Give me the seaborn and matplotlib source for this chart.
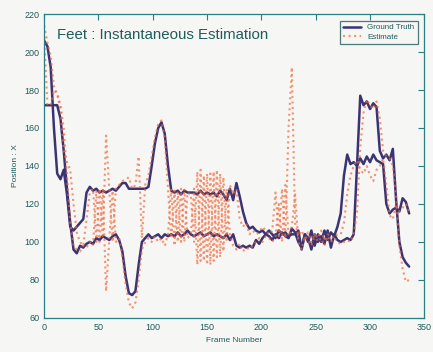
import matplotlib
matplotlib.use("Agg")
import matplotlib.pyplot as plt
import seaborn as sns
import numpy as np
import pandas as pd

# frame numbers (every 3rd frame)
frames = np.arange(0, 337, 3)

# ground truth, foot 1 and foot 2
truth_a = [206, 203, 192, 160, 136, 133, 138, 125, 108, 106,
           108, 110, 112, 126, 129, 127, 128, 126, 127, 126,
           127, 128, 127, 129, 131, 131, 128, 128, 128, 128,
           128, 128, 129, 140, 152, 160, 163, 157, 140, 127,
           126, 127, 125, 127, 126, 126, 126, 125, 127, 125,
           126, 125, 126, 124, 127, 125, 122, 128, 122, 131,
           124, 116, 110, 107, 108, 106, 105, 106, 104, 106,
           104, 102, 106, 104, 105, 103, 104, 104, 106, 96,
           104, 100, 106, 98, 104, 100, 106, 101, 105, 103,
           108, 115, 135, 146, 141, 142, 140, 144, 141, 145,
           142, 146, 143, 142, 141, 120, 115, 117, 118, 116,
           123, 121, 115]
truth_b = [172, 172, 172, 172, 172, 165, 148, 128, 110, 96,
           94, 98, 97, 99, 100, 99, 102, 101, 103, 102,
           101, 103, 104, 101, 95, 82, 73, 72, 74, 88,
           100, 102, 104, 102, 103, 104, 102, 104, 103, 104,
           103, 105, 103, 104, 106, 104, 103, 104, 105, 103,
           104, 105, 103, 104, 103, 102, 104, 101, 104, 98,
           97, 98, 97, 98, 97, 101, 99, 102, 104, 103,
           101, 104, 102, 105, 103, 102, 107, 105, 100, 97,
           104, 102, 96, 104, 100, 103, 99, 106, 97, 104,
           101, 100, 101, 102, 101, 104, 140, 177, 172, 174,
           170, 173, 171, 148, 144, 146, 143, 149, 122, 100,
           92, 89, 87]

# instantaneous estimates
est_a = [214, 205, 198, 182, 178, 170, 148, 142, 138, 120,
         105, 100, 98, 112, 126, 128, 100, 128, 102, 156,
         127, 100, 128, 130, 132, 133, 134, 128, 130, 145,
         102, 130, 135, 145, 155, 162, 164, 155, 128, 102,
         127, 100, 128, 100, 126, 125, 100, 137, 90, 135,
         88, 136, 90, 138, 92, 134, 100, 130, 125, 128,
         112, 108, 110, 104, 106, 104, 105, 108, 106, 104,
         106, 126, 103, 128, 102, 160, 192, 110, 103, 106,
         102, 105, 100, 104, 102, 106, 101, 104, 103, 102,
         104, 104, 110, 125, 135, 140, 143, 138, 136, 140,
         135, 132, 138, 140, 144, 130, 114, 112, 120, 116,
         118, 120, 116]
est_b = [208, 172, 172, 180, 178, 172, 160, 135, 110, 98,
         96, 95, 98, 97, 100, 98, 127, 100, 128, 74,
         102, 127, 100, 102, 92, 78, 68, 65, 68, 80,
         96, 100, 102, 100, 103, 100, 102, 98, 104, 128,
         98, 126, 100, 128, 102, 104, 128, 88, 138, 90,
         136, 88, 137, 92, 136, 95, 128, 104, 98, 96,
         99, 95, 97, 96, 98, 100, 102, 100, 103, 102,
         100, 103, 120, 100, 130, 103, 108, 125, 100, 96,
         103, 101, 98, 104, 100, 102, 98, 103, 100, 102,
         100, 99, 100, 101, 100, 104, 115, 150, 168, 175,
         172, 170, 174, 165, 148, 145, 144, 140, 124, 98,
         86, 79, 80]

bg = '#f6f6f4'
axis_col = '#2a8080'
text_col = '#1f5c5c'
truth_col = '#3b3474'
est_col = '#f2683a'

sns.set_style("white")
plt.rcParams['font.family'] = ['Liberation Sans', 'DejaVu Sans']

fig = plt.figure(figsize=(4.33, 3.52), dpi=100, facecolor=bg)
ax = fig.add_axes([0.102, 0.097, 0.878, 0.863], facecolor=bg)

sns.lineplot(x=frames, y=truth_a, ax=ax, color=truth_col, linewidth=1.8, label='Ground Truth')
sns.lineplot(x=frames, y=truth_b, ax=ax, color=truth_col, linewidth=1.8)
sns.lineplot(x=frames, y=est_a, ax=ax, color=est_col, linewidth=1.5, linestyle=':', alpha=0.7, label='Estimate')
sns.lineplot(x=frames, y=est_b, ax=ax, color=est_col, linewidth=1.5, linestyle=':', alpha=0.7)

ax.set_xlim(0, 350)
ax.set_ylim(60, 220)
ax.set_xticks(range(0, 351, 50))
ax.set_yticks(range(60, 221, 20))
ax.tick_params(direction='in', length=4, width=0.8, color=axis_col, labelcolor=text_col,
               labelsize=6.5, top=True, right=True)
for s in ax.spines.values():
    s.set_color(axis_col)
    s.set_linewidth(0.9)

ax.set_xlabel('Frame Number', fontsize=6, color=text_col)
ax.set_ylabel('Position : X', fontsize=6, color=text_col)

ax.text(0.033, 0.955, 'Feet : Instantaneous Estimation', transform=ax.transAxes,
        fontsize=10.8, color=text_col, va='top', ha='left')

leg = ax.legend(loc='upper right', fontsize=5.8, frameon=True, fancybox=False,
                borderpad=0.4, handlelength=2.2, labelspacing=0.2,
                bbox_to_anchor=(0.993, 0.992))
leg.get_frame().set_edgecolor('#1f5c5c')
leg.get_frame().set_linewidth(0.9)
leg.get_frame().set_facecolor(bg)
for t in leg.get_texts():
    t.set_color(text_col)

fig.savefig('out.png', dpi=100, facecolor=bg)
